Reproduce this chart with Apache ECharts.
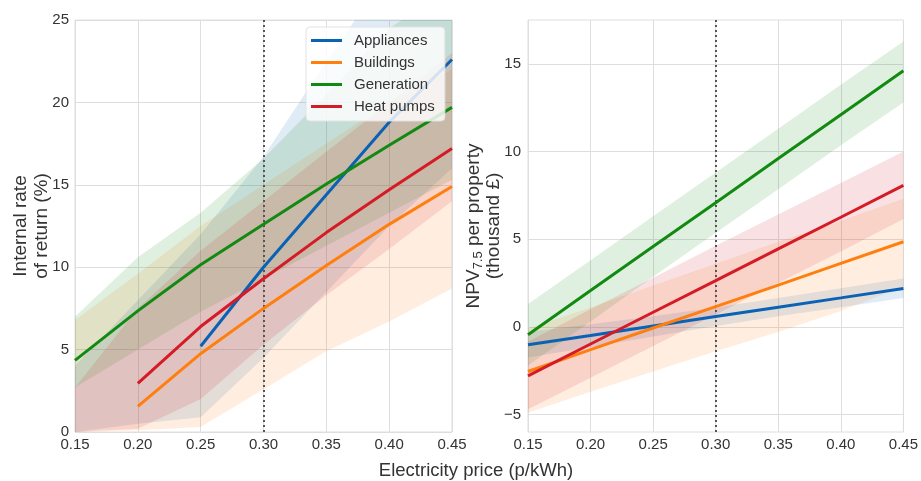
<!DOCTYPE html>
<html>
<head>
<meta charset="utf-8">
<script src="https://cdn.jsdelivr.net/npm/echarts@6/dist/echarts.min.js"></script>
<style>
  html, body { margin: 0; padding: 0; background: #fff; }
  #chart { width: 921px; height: 481px; }
</style>
</head>
<body>
<div id="chart"></div>
<script>
// Electricity price (p/kWh) sampled for both panels
const prices = [0.15, 0.20, 0.25, 0.30, 0.35, 0.40, 0.45];
const categories = ['Appliances', 'Buildings', 'Generation', 'Heat pumps'];
const colors = ['#0a62b5', '#ff7f0e', '#128a12', '#d41b26'];

// Left panel: internal rate of return (%), median and uncertainty range
const irrAppliances    = [null, null, 5.2, 10.0, 14.4, 18.8, 22.6];
const irrAppliancesLo  = [0.0, 0.5, 0.9, 4.5, 8.5, 12.5, 16.0];
const irrAppliancesHi  = [4.0, 8.0, 12.0, 16.7, 22.5, 28.0, 33.0];
const irrBuildings     = [null, 1.55, 4.75, 7.5, 10.1, 12.6, 14.9];
const irrBuildingsLo   = [0.0, 0.1, 0.3, 2.6, 4.9, 6.7, 8.7];
const irrBuildingsHi   = [6.8, 9.6, 12.5, 15.0, 17.5, 20.0, 22.0];
const irrGeneration    = [4.35, 7.35, 10.15, 12.6, 15.05, 17.4, 19.7];
const irrGenerationLo  = [2.7, 5.0, 7.3, 9.3, 11.3, 13.3, 15.3];
const irrGenerationHi  = [7.0, 10.6, 13.3, 16.6, 20.5, 24.5, 27.0];
const irrHeatPumps     = [null, 2.95, 6.4, 9.3, 12.1, 14.7, 17.2];
const irrHeatPumpsLo   = [0.0, 0.2, 2.0, 5.3, 8.3, 11.1, 14.0];
const irrHeatPumpsHi   = [2.7, 7.5, 11.0, 14.0, 17.0, 20.0, 23.0];

// Right panel: NPV (thousand £) per property, median and uncertainty range
const npvAppliances    = [-1.02, -0.49, 0.05, 0.585, 1.12, 1.65, 2.19];
const npvAppliancesLo  = [-1.75, -1.15, -0.55, 0.05, 0.6, 1.12, 1.65];
const npvAppliancesHi  = [-0.3, 0.15, 0.6, 1.1, 1.65, 2.2, 2.75];
const npvBuildings     = [-2.55, -1.3, -0.07, 1.15, 2.38, 3.62, 4.85];
const npvBuildingsLo   = [-4.9, -3.7, -2.55, -1.4, -0.3, 0.9, 2.3];
const npvBuildingsHi   = [-0.1, 1.1, 2.35, 3.6, 4.85, 6.05, 7.3];
const npvGeneration    = [-0.45, 2.07, 4.58, 7.08, 9.6, 12.1, 14.6];
const npvGenerationLo  = [-2.2, 0.3, 2.85, 5.36, 7.85, 10.35, 12.8];
const npvGenerationHi  = [1.3, 3.8, 6.3, 8.8, 11.3, 13.8, 16.27];
const npvHeatPumps     = [-2.8, -0.98, 0.83, 2.63, 4.45, 6.25, 8.07];
const npvHeatPumpsLo   = [-4.7, -2.9, -1.1, 0.7, 2.5, 4.3, 6.15];
const npvHeatPumpsHi   = [-0.85, 1.0, 2.8, 4.62, 6.4, 8.2, 10.0];

// Axis ticks
const irrTicks = [0, 5, 10, 15, 20, 25];
const npvTicks = [-5, 0, 5, 10, 15];
const referencePrice = 0.30;

const FONT = 'Liberation Sans, Arial, sans-serif';

const irrMid = [irrAppliances, irrBuildings, irrGeneration, irrHeatPumps];
const irrLo  = [irrAppliancesLo, irrBuildingsLo, irrGenerationLo, irrHeatPumpsLo];
const irrHi  = [irrAppliancesHi, irrBuildingsHi, irrGenerationHi, irrHeatPumpsHi];
const npvMid = [npvAppliances, npvBuildings, npvGeneration, npvHeatPumps];
const npvLo  = [npvAppliancesLo, npvBuildingsLo, npvGenerationLo, npvHeatPumpsLo];
const npvHi  = [npvAppliancesHi, npvBuildingsHi, npvGenerationHi, npvHeatPumpsHi];

function pairs(values) {
  const out = [];
  values.forEach((v, i) => { if (v !== null) out.push([prices[i], v]); });
  return out;
}

// Shaded range between lower and upper bounds, drawn as one polygon
function bandSeries(name, lo, hi, color, gridIndex) {
  return {
    type: 'custom',
    name: name,
    xAxisIndex: gridIndex,
    yAxisIndex: gridIndex,
    clip: true,
    silent: true,
    z: 1,
    data: [[prices[0], lo[0]]],
    renderItem: function (params, api) {
      const pts = [];
      for (let i = 0; i < prices.length; i++) pts.push(api.coord([prices[i], hi[i]]));
      for (let i = prices.length - 1; i >= 0; i--) pts.push(api.coord([prices[i], lo[i]]));
      return {
        type: 'polygon',
        shape: { points: pts },
        style: { fill: color, opacity: 0.13 }
      };
    }
  };
}

function lineSeries(name, values, color, gridIndex, withRef) {
  const s = {
    type: 'line',
    name: name,
    xAxisIndex: gridIndex,
    yAxisIndex: gridIndex,
    data: pairs(values),
    symbol: 'none',
    lineStyle: { color: color, width: 3 },
    itemStyle: { color: color },
    z: 3
  };
  if (withRef) {
    s.markLine = {
      silent: true,
      symbol: ['none', 'none'],
      label: { show: false },
      lineStyle: { color: '#555', type: [2, 3], width: 2 },
      data: [{ xAxis: referencePrice }],
      z: 2
    };
  }
  return s;
}

const series = [];
categories.forEach((c, k) => {
  series.push(bandSeries(c + ' range (IRR)', irrLo[k], irrHi[k], colors[k], 0));
  series.push(bandSeries(c + ' range (NPV)', npvLo[k], npvHi[k], colors[k], 1));
});
categories.forEach((c, k) => {
  series.push(lineSeries(c, irrMid[k], colors[k], 0, k === 0));
  series.push(lineSeries(c, npvMid[k], colors[k], 1, k === 0));
});

const labelStyle = { color: '#333', fontSize: 15, fontFamily: FONT };
const gridLine = { show: true, lineStyle: { color: '#dedede', width: 1 } };

function xAxis(gridIndex) {
  return {
    type: 'value',
    gridIndex: gridIndex,
    min: 0.15, max: 0.45, interval: 0.05,
    axisLine: { show: false },
    axisTick: { show: false },
    splitLine: gridLine,
    axisLabel: Object.assign({ margin: 5, formatter: v => v.toFixed(2) }, labelStyle)
  };
}

const minus = v => String(v).replace('-', '\u2212');

// Rotated axis title line
function vText(text, x, y) {
  return {
    type: 'text',
    x: x, y: y,
    rotation: Math.PI / 2,
    style: {
      text: text,
      fontSize: 19, fill: '#333', fontFamily: FONT,
      align: 'center', verticalAlign: 'middle',
      rich: {
        sub: { fontSize: 13, fill: '#333', fontFamily: FONT, verticalAlign: 'bottom', padding: [8, 0, 0, 0] }
      }
    }
  };
}

const option = {
  animation: false,
  backgroundColor: '#fff',
  textStyle: { fontFamily: FONT },
  grid: [
    { left: 75, right: 469, top: 20, bottom: 49, show: true, borderColor: '#dedede', borderWidth: 1, backgroundColor: 'transparent' },
    { left: 528, right: 16, top: 20, bottom: 49, show: true, borderColor: '#dedede', borderWidth: 1, backgroundColor: 'transparent' }
  ],
  xAxis: [xAxis(0), xAxis(1)],
  yAxis: [
    {
      type: 'value', gridIndex: 0,
      min: irrTicks[0], max: irrTicks[irrTicks.length - 1], interval: 5,
      axisLine: { show: false }, axisTick: { show: false },
      splitLine: gridLine,
      axisLabel: Object.assign({ margin: 6 }, labelStyle)
    },
    {
      type: 'value', gridIndex: 1,
      min: -6.0, max: 17.5,
      axisLine: { show: false },
      axisTick: { show: false, customValues: npvTicks },
      splitLine: gridLine,
      axisLabel: Object.assign({ margin: 7, customValues: npvTicks, formatter: minus }, labelStyle)
    }
  ],
  legend: {
    data: categories,
    orient: 'vertical',
    left: 306,
    top: 27,
    icon: 'rect',
    itemWidth: 31,
    itemHeight: 3,
    itemGap: 5,
    padding: [5, 10, 6, 5],
    backgroundColor: 'rgba(255,255,255,0.82)',
    borderColor: '#e2e2e2',
    borderWidth: 1,
    borderRadius: 4,
    selectedMode: false,
    textStyle: { fontSize: 15, color: '#333', fontFamily: FONT, padding: [0, 0, 0, 7], lineHeight: 17 }
  },
  graphic: [
    vText('Internal rate', 21, 226),
    vText('of return (%)', 42, 226),
    vText('NPV{sub|7.5} per property', 474, 226),
    vText('(thousand £)', 494, 226),
    {
      type: 'text',
      x: 476, y: 471,
      style: {
        text: 'Electricity price (p/kWh)', fontSize: 18.5, fill: '#333', fontFamily: FONT,
        align: 'center', verticalAlign: 'middle'
      }
    }
  ],
  series: series
};

const chart = echarts.init(document.getElementById('chart'), null, { renderer: 'canvas' });
chart.setOption(option);
</script>
</body>
</html>
